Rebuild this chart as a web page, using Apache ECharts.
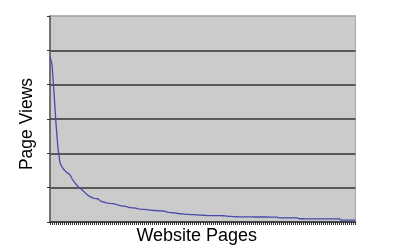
<!DOCTYPE html>
<html>
<head>
<meta charset="utf-8">
<script src="https://cdn.jsdelivr.net/npm/echarts@6/dist/echarts.min.js"></script>
<style>
html,body{margin:0;padding:0;background:#fff;}
#chart{width:400px;height:250px;}
</style>
</head>
<body>
<div id="chart"></div>
<script>
// Page views per page (sorted), in grid units
const pageViews = [
  4.82,4.60,3.77,2.85,2.13,1.72,1.60,1.52,1.46,1.42,
  1.37,1.26,1.17,1.10,1.03,0.98,0.93,0.88,0.82,0.77,
  0.74,0.71,0.69,0.68,0.67,0.62,0.59,0.58,0.56,0.55,
  0.54,0.535,0.53,0.51,0.49,0.48,0.46,0.46,0.45,0.43,
  0.42,0.41,0.41,0.40,0.385,0.376,0.37,0.367,0.36,0.353,
  0.347,0.34,0.335,0.33,0.327,0.324,0.32,0.315,0.295,0.28,
  0.275,0.27,0.263,0.255,0.246,0.24,0.234,0.228,0.223,0.22,
  0.217,0.217,0.214,0.208,0.202,0.2,0.197,0.194,0.19,0.188,
  0.188,0.187,0.186,0.185,0.184,0.183,0.182,0.178,0.172,0.166,
  0.162,0.158,0.155,0.153,0.151,0.15,0.149,0.148,0.148,0.147,
  0.147,0.147,0.146,0.146,0.146,0.145,0.145,0.145,0.145,0.144,
  0.144,0.144,0.144,0.143,0.122,0.122,0.121,0.121,0.121,0.120,
  0.120,0.120,0.119,0.119,0.094,0.094,0.094,0.093,0.093,0.093,
  0.093,0.092,0.092,0.092,0.092,0.091,0.091,0.091,0.091,0.090,
  0.090,0.090,0.090,0.090,0.090,0.052,0.052,0.052,0.052,0.052,
  0.052,0.052,0.052
];
const pages = pageViews.map((v, i) => String(i + 1));
const xTitle = 'Website Pages';
const yTitle = 'Page Views';

const chart = echarts.init(document.getElementById('chart'), null, {renderer: 'canvas'});
chart.setOption({
  animation: false,
  backgroundColor: '#ffffff',
  grid: {
    left: 50, top: 16, right: 44.5, bottom: 26.5,
    show: true, backgroundColor: '#cbcbcb', borderColor: '#a8a8a8', borderWidth: 1
  },
  xAxis: {
    type: 'category',
    data: pages,
    boundaryGap: false,
    name: xTitle,
    nameLocation: 'middle',
    nameGap: 5,
    nameTextStyle: {fontFamily: 'Liberation Sans', fontSize: 18, color: '#000', verticalAlign: 'top', padding: [0, 12, 0, 0]},
    axisLine: {show: true, lineStyle: {color: '#444', width: 1.5}},
    axisTick: {show: true, interval: 0, length: 3, lineStyle: {color: '#333', width: 1}},
    axisLabel: {show: false},
    splitLine: {show: false}
  },
  yAxis: {
    type: 'value',
    min: 0, max: 6, interval: 1,
    name: yTitle,
    nameLocation: 'middle',
    nameGap: 14,
    nameTextStyle: {fontFamily: 'Liberation Sans', fontSize: 17.5, color: '#000', padding: [0, 10, 0, 0]},
    axisLine: {show: true, lineStyle: {color: '#555', width: 1.5}},
    axisTick: {show: true, length: 3, lineStyle: {color: '#333', width: 1}},
    axisLabel: {show: false},
    splitLine: {show: true, lineStyle: {color: ['#333','#333','#333','#333','#333','#333','#a8a8a8'], width: 1.5}}
  },
  series: [{
    type: 'line',
    data: pageViews,
    symbol: 'none',
    lineStyle: {color: '#4a4aaa', width: 1.3},
    silent: true
  }]
});
</script>
</body>
</html>
